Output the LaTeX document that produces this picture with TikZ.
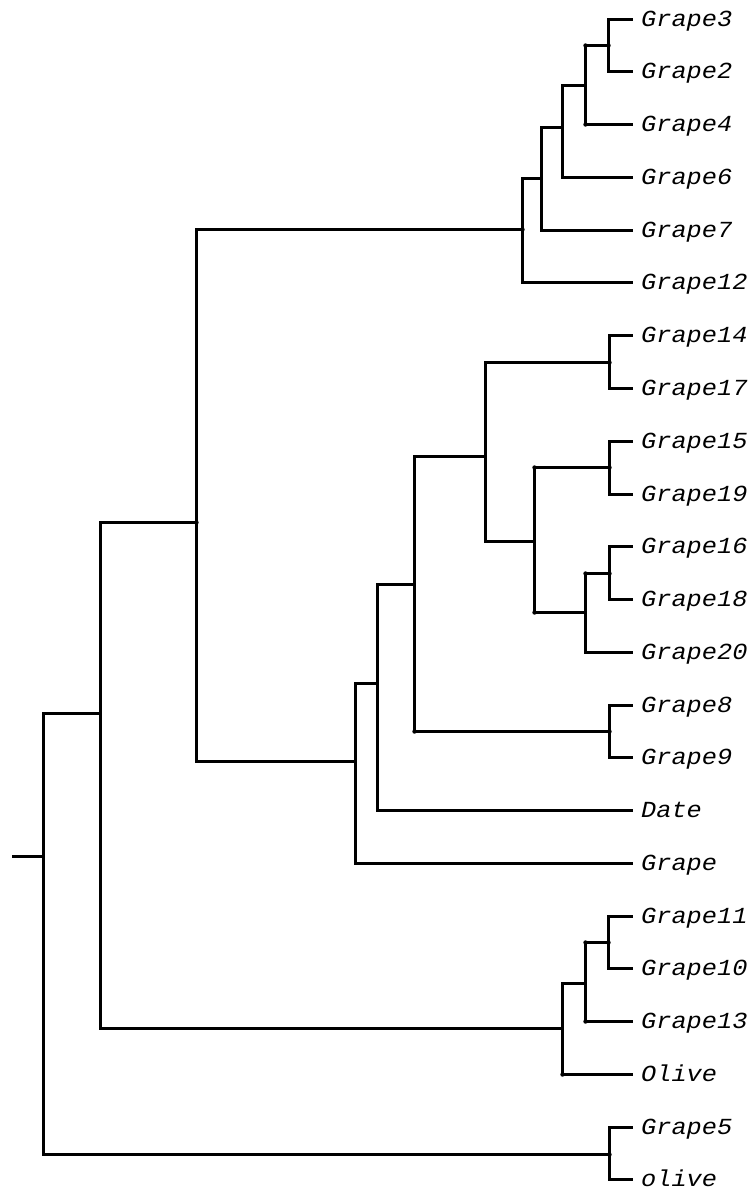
\documentclass[tikz,border=0pt]{standalone}
\usepackage{fontspec}
\newfontfamily\labfont[FakeStretch=1.1]{Liberation Mono Italic}
\begin{document}
\begin{tikzpicture}[x=1pt,y=-1pt,
  br/.style={line width=3pt},
  jdot/.style={fill=black},
  leaf/.style={anchor=west, inner xsep=8pt, inner ysep=0pt, text height=13pt, text depth=0pt,
    font=\labfont\fontsize{23}{23}\selectfont}]
\useasboundingbox (0,0) rectangle (755,1191);
% leaves
\node[leaf] (g3)    at (633,19.5)   {Grape3};
\node[leaf] (g2)    at (633,71.5)   {Grape2};
\node[leaf] (g4)    at (633,124.5)  {Grape4};
\node[leaf] (g6)    at (633,177.5)  {Grape6};
\node[leaf] (g7)    at (633,230.5)  {Grape7};
\node[leaf] (g12)   at (633,282.5)  {Grape12};
\node[leaf] (g14)   at (633,335.5)  {Grape14};
\node[leaf] (g17)   at (633,388.5)  {Grape17};
\node[leaf] (g15)   at (633,441.5)  {Grape15};
\node[leaf] (g19)   at (633,494.5)  {Grape19};
\node[leaf] (g16)   at (633,546.5)  {Grape16};
\node[leaf] (g18)   at (633,599.5)  {Grape18};
\node[leaf] (g20)   at (633,652.5)  {Grape20};
\node[leaf] (g8)    at (633,705.5)  {Grape8};
\node[leaf] (g9)    at (633,757.5)  {Grape9};
\node[leaf] (date)  at (633,810.5)  {Date};
\node[leaf] (grape) at (633,863.5)  {Grape};
\node[leaf] (g11)   at (633,916.5)  {Grape11};
\node[leaf] (g10)   at (633,968.5)  {Grape10};
\node[leaf] (g13)   at (633,1021.5) {Grape13};
\node[leaf] (Oli)   at (633,1074.5) {Olive};
\node[leaf] (g5)    at (633,1127.5) {Grape5};
\node[leaf] (oli)   at (633,1179.5) {olive};
% internal nodes
\coordinate (n32)   at (608.5,45.5);
\coordinate (n4)    at (585.5,85.5);
\coordinate (n6)    at (562.5,127.5);
\coordinate (n7)    at (541.5,178.5);
\coordinate (nA)    at (522.5,229.5);
\coordinate (n1417) at (609.5,362.5);
\coordinate (n1519) at (609.5,467.5);
\coordinate (n1618) at (609.5,573.5);
\coordinate (n20)   at (585.5,612.5);
\coordinate (n1520) at (534.5,541.5);
\coordinate (n1420) at (485.5,456.5);
\coordinate (n89)   at (609.5,731.5);
\coordinate (n149)  at (414.5,584.5);
\coordinate (nDate) at (377.5,683.5);
\coordinate (nGr)   at (355.5,761.5);
\coordinate (nB)    at (196.5,522.5);
\coordinate (n1110) at (608.5,942.5);
\coordinate (n13)   at (585.5,983.5);
\coordinate (nOl)   at (562.5,1028.5);
\coordinate (nC)    at (100.5,713.5);
\coordinate (n5)    at (609.5,1154.5);
\coordinate (root)  at (43.5,856.5);
\coordinate (stub)  at (12,856.5);
% branches
\draw[br] (n32) |- (g3.west);  \draw[br] (n32) |- (g2.west);
\draw[br] (n4) |- (n32);       \draw[br] (n4) |- (g4.west);
\draw[br] (n6) |- (n4);        \draw[br] (n6) |- (g6.west);
\draw[br] (n7) |- (n6);        \draw[br] (n7) |- (g7.west);
\draw[br] (nA) |- (n7);        \draw[br] (nA) |- (g12.west);
\draw[br] (n1417) |- (g14.west); \draw[br] (n1417) |- (g17.west);
\draw[br] (n1519) |- (g15.west); \draw[br] (n1519) |- (g19.west);
\draw[br] (n1618) |- (g16.west); \draw[br] (n1618) |- (g18.west);
\draw[br] (n20) |- (n1618);    \draw[br] (n20) |- (g20.west);
\draw[br] (n1520) |- (n1519);  \draw[br] (n1520) |- (n20);
\draw[br] (n1420) |- (n1417);  \draw[br] (n1420) |- (n1520);
\draw[br] (n89) |- (g8.west);  \draw[br] (n89) |- (g9.west);
\draw[br] (n149) |- (n1420);   \draw[br] (n149) |- (n89);
\draw[br] (nDate) |- (n149);   \draw[br] (nDate) |- (date.west);
\draw[br] (nGr) |- (nDate);    \draw[br] (nGr) |- (grape.west);
\draw[br] (nB) |- (nA);        \draw[br] (nB) |- (nGr);
\draw[br] (n1110) |- (g11.west); \draw[br] (n1110) |- (g10.west);
\draw[br] (n13) |- (n1110);    \draw[br] (n13) |- (g13.west);
\draw[br] (nOl) |- (n13);      \draw[br] (nOl) |- (Oli.west);
\draw[br] (nC) |- (nB);        \draw[br] (nC) |- (nOl);
\draw[br] (n5) |- (g5.west);   \draw[br] (n5) |- (oli.west);
\draw[br] (root) |- (nC);      \draw[br] (root) |- (n5);
\draw[br] (stub) -- (root);
% small junction dots
\foreach \p in {n32,nA,n1417,n1519,n1618,n89,n1110,n5,nB}
  \fill[jdot] (\p) circle (2.2pt);
\fill[jdot] (585.5,45.5) circle (2.2pt);
\fill[jdot] (585.5,124.5) circle (2.2pt);
\fill[jdot] (534.5,467.5) circle (2.2pt);
\fill[jdot] (534.5,612.5) circle (2.2pt);
\fill[jdot] (585.5,573.5) circle (2.2pt);
\fill[jdot] (414.5,731.5) circle (2.2pt);
\fill[jdot] (585.5,942.5) circle (2.2pt);
\fill[jdot] (585.5,1021.5) circle (2.2pt);
\fill[jdot] (562.5,1074.5) circle (2.2pt);
\end{tikzpicture}
\end{document}
